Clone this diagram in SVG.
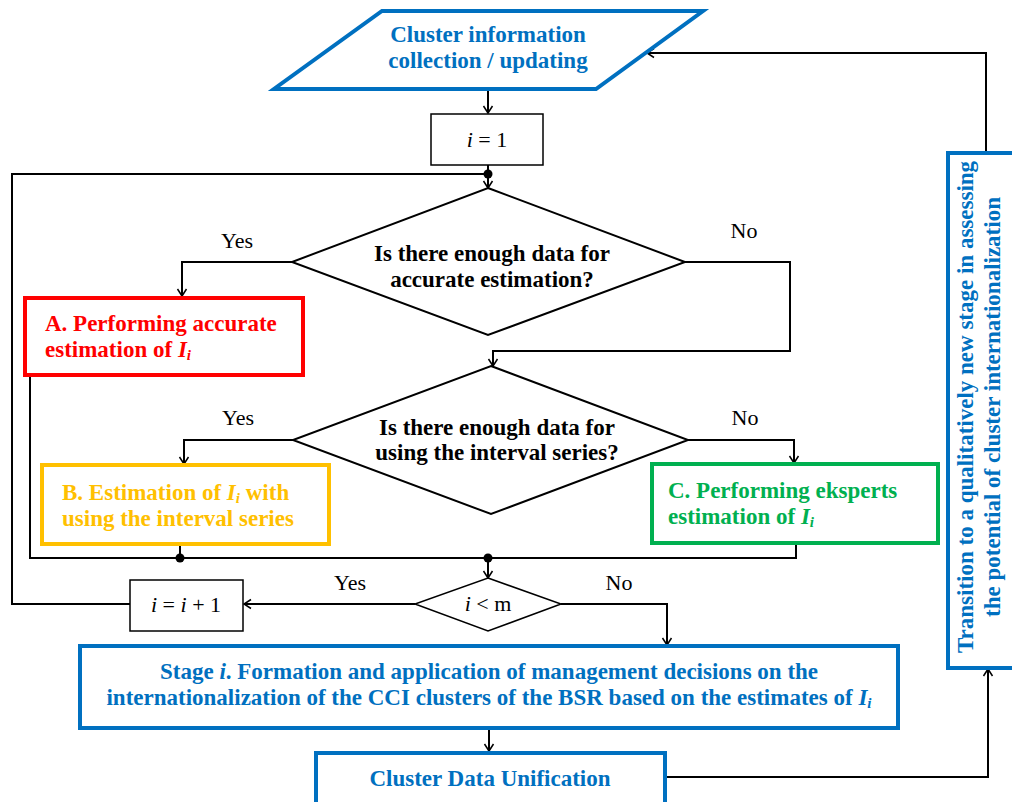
<svg xmlns="http://www.w3.org/2000/svg" width="1012" height="802" viewBox="0 0 1012 802">
<defs>
<style>
.ln{fill:none;stroke:#000;stroke-width:2}
.bx{fill:#fff;stroke:#000;stroke-width:1.5}
.bt{font-family:"Liberation Serif","Times New Roman",serif;font-weight:bold;font-size:23px}
.rt{font-family:"Liberation Serif","Times New Roman",serif;font-size:22px;fill:#000}
.blue{fill:#0070C0}
</style>
<marker id="ar" markerWidth="12" markerHeight="12" refX="10" refY="6" orient="auto" markerUnits="userSpaceOnUse">
<polyline points="3,1.5 10,6 3,10.5" fill="none" stroke="#000" stroke-width="1.5"/>
</marker>
</defs>
<rect width="1012" height="802" fill="#fff"/>

<g id="connectors">
<line class="ln" x1="488" y1="89" x2="488" y2="113" marker-end="url(#ar)"/>
<line class="ln" x1="488" y1="165" x2="488" y2="188" marker-end="url(#ar)"/>
<polyline class="ln" points="488,174 12,174 12,604 130,604"/>
<polyline class="ln" points="292,262 182,262 182,296" marker-end="url(#ar)"/>
<polyline class="ln" points="685,262 790,262 790,351 493,351 493,366" marker-end="url(#ar)"/>
<polyline class="ln" points="293,440 184,440 184,464" marker-end="url(#ar)"/>
<polyline class="ln" points="688,440 794,440 794,463" marker-end="url(#ar)"/>
<polyline class="ln" points="30,375 30,558 796,558 796,543"/>
<line class="ln" x1="180" y1="544" x2="180" y2="558"/>
<line class="ln" x1="488" y1="558" x2="488" y2="578" marker-end="url(#ar)"/>
<line class="ln" x1="415" y1="604" x2="244" y2="604" marker-end="url(#ar)"/>
<polyline class="ln" points="561,604 667,604 667,645" marker-end="url(#ar)"/>
<line class="ln" x1="489" y1="728" x2="489" y2="751" marker-end="url(#ar)"/>
<polyline class="ln" points="665,777 988,777 988,669" marker-end="url(#ar)"/>
<polyline class="ln" points="986,153 986,53 647,53" marker-end="url(#ar)"/>
<circle cx="488" cy="174" r="4.5" fill="#000"/>
<circle cx="180" cy="558" r="4.5" fill="#000"/>
<circle cx="488" cy="558" r="4.5" fill="#000"/>
<text class="rt" x="237" y="248" text-anchor="middle">Yes</text>
<text class="rt" x="744" y="238" text-anchor="middle">No</text>
<text class="rt" x="238" y="425" text-anchor="middle">Yes</text>
<text class="rt" x="745" y="425" text-anchor="middle">No</text>
<text class="rt" x="350" y="590" text-anchor="middle">Yes</text>
<text class="rt" x="619" y="590" text-anchor="middle">No</text>
</g>

<g id="collect">
<polygon points="382,11 703,11 596,89 274,89" fill="#fff" stroke="#0070C0" stroke-width="4"/>
<text class="bt blue" x="488" y="42" text-anchor="middle">Cluster information</text>
<text class="bt blue" x="488" y="68" text-anchor="middle">collection / updating</text>
</g>

<g id="init">
<rect class="bx" x="431" y="114" width="112" height="51"/>
<text class="rt" x="487" y="147" text-anchor="middle"><tspan font-style="italic">i</tspan> = 1</text>
</g>

<g id="dec1">
<polygon points="488,188 685,262 488,335 292,262" fill="#fff" stroke="#000" stroke-width="2"/>
<text class="bt" x="492" y="261" text-anchor="middle">Is there enough data for</text>
<text class="bt" x="492" y="287" text-anchor="middle">accurate estimation?</text>
</g>

<g id="boxA">
<rect x="25" y="298" width="278" height="77" fill="#fff" stroke="#FF0000" stroke-width="4"/>
<text class="bt" fill="#FF0000" x="45" y="331">A. Performing accurate</text>
<text class="bt" fill="#FF0000" x="45" y="357">estimation of <tspan font-style="italic">I</tspan><tspan font-style="italic" font-size="15" dy="3">i</tspan></text>
</g>

<g id="dec2">
<polygon points="491,366 688,440 491,514 293,440" fill="#fff" stroke="#000" stroke-width="2"/>
<text class="bt" x="497" y="435" text-anchor="middle">Is there enough data for</text>
<text class="bt" x="497" y="460" text-anchor="middle">using the interval series?</text>
</g>

<g id="boxB">
<rect x="42" y="465" width="287" height="79" fill="#fff" stroke="#FFC000" stroke-width="4"/>
<text class="bt" fill="#FFC000" x="62" y="500">B. Estimation of <tspan font-style="italic">I</tspan><tspan font-style="italic" font-size="15" dy="3">i</tspan><tspan dy="-3"> with</tspan></text>
<text class="bt" fill="#FFC000" x="62" y="526">using the interval series</text>
</g>

<g id="boxC">
<rect x="652" y="464" width="286" height="79" fill="#fff" stroke="#00B050" stroke-width="4"/>
<text class="bt" fill="#00B050" x="668" y="498">C. Performing eksperts</text>
<text class="bt" fill="#00B050" x="668" y="524">estimation of <tspan font-style="italic">I</tspan><tspan font-style="italic" font-size="15" dy="3">i</tspan></text>
</g>

<g id="dec3">
<polygon points="488,578 561,604 488,631 415,604" fill="#fff" stroke="#000" stroke-width="1.5"/>
<text class="rt" x="488" y="611" text-anchor="middle"><tspan font-style="italic">i</tspan> &lt; m</text>
</g>

<g id="incr">
<rect class="bx" x="130" y="580" width="113" height="51"/>
<text class="rt" x="186" y="612" text-anchor="middle"><tspan font-style="italic">i</tspan> = <tspan font-style="italic">i</tspan> + 1</text>
</g>

<g id="stage">
<rect x="80" y="646" width="818" height="82" fill="#fff" stroke="#0070C0" stroke-width="4"/>
<text class="bt blue" x="489" y="679" text-anchor="middle">Stage <tspan font-style="italic">i</tspan>. Formation and application of management decisions on the</text>
<text class="bt blue" x="489" y="705" text-anchor="middle">internationalization of the CCI clusters of the BSR based on the estimates of <tspan font-style="italic">I</tspan><tspan font-style="italic" font-size="15" dy="3">i</tspan></text>
</g>

<g id="unify">
<rect x="316" y="753" width="349" height="60" fill="#fff" stroke="#0070C0" stroke-width="4"/>
<text class="bt blue" x="490" y="786" text-anchor="middle">Cluster Data Unification</text>
</g>

<g id="transition">
<rect x="948" y="153" width="70" height="515" fill="#fff" stroke="#0070C0" stroke-width="4"/>
<text class="bt blue" transform="translate(973,407) rotate(-90)" text-anchor="middle">Transition to a qualitatively new stage in assessing</text>
<text class="bt blue" transform="translate(1000,407) rotate(-90)" text-anchor="middle">the potential of cluster internationalization</text>
</g>
</svg>
